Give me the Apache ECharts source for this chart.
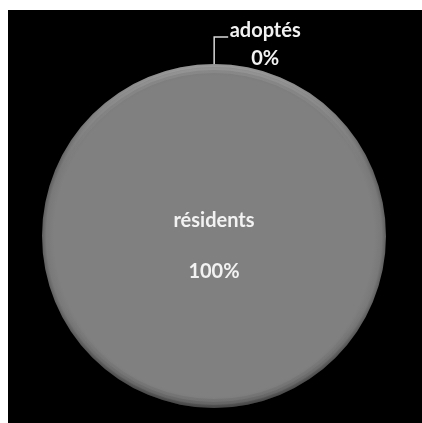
<!DOCTYPE html>
<html>
<head>
<meta charset="utf-8">
<script src="https://cdn.jsdelivr.net/npm/echarts@6/dist/echarts.min.js"></script>
<style>
  html, body { margin: 0; padding: 0; background: #ffffff; }
  #chart { position: absolute; left: 8px; top: 10px; width: 414px; height: 413px; background: #000000; }
</style>
</head>
<body>
<div id="chart"></div>
<script>
// Share of residents vs adopted
const categories = ['résidents', 'adoptés'];
const values = [100, 0];

const chart = echarts.init(document.getElementById('chart'), null, { renderer: 'canvas' });

const CENTER = [206, 226];
const R = 172;
const labelFont = { fontFamily: 'Lato', fontWeight: 'bold', fontSize: 20, color: '#f2f2f2' };

// Flat grey body, darkening slightly towards the rim
const fill = {
  type: 'radial', x: 0.5, y: 0.5, r: 0.5,
  colorStops: [
    { offset: 0, color: '#808080' },
    { offset: 0.93, color: '#808080' },
    { offset: 0.975, color: '#797979' },
    { offset: 1, color: '#5e5e5e' }
  ]
};

const data = categories.map((name, i) => {
  const item = { name: name, value: values[i] };
  if (i === 0) {
    item.label = {
      position: 'center',
      formatter: '{b}\n\n{d}%',
      lineHeight: 25.5,
      offset: [0, 10.5],
      align: 'center',
      ...labelFont
    };
    item.labelLine = { show: false };
  } else {
    item.label = {
      position: 'outside',
      formatter: '{t|{b}}\n{t|{d}%}',
      rich: { t: { width: 72, align: 'center', lineHeight: 28, ...labelFont } },
      padding: [16, 0, 0, 0],
      distanceToLabelLine: 1
    };
    item.labelLine = { show: true, length: 27, length2: 14, lineStyle: { color: '#d9d9d9', width: 1.5 } };
  }
  return item;
});

// Soft bevel rim: light at the top, dark at the bottom
const rims = [
  { r: [169, 172], top: 0.32, bottom: 0.28 },
  { r: [166, 169], top: 0.2, bottom: 0.16 },
  { r: [163, 166], top: 0.09, bottom: 0.07 }
];
const rimSeries = rims.map(rim => ({
  type: 'pie',
  center: CENTER,
  radius: rim.r,
  startAngle: 89.95,
  silent: true,
  label: { show: false },
  labelLine: { show: false },
  itemStyle: {
    borderWidth: 0,
    color: {
      type: 'linear', x: 0, y: 0, x2: 0, y2: 1,
      colorStops: [
        { offset: 0, color: 'rgba(255,255,255,' + rim.top + ')' },
        { offset: 0.3, color: 'rgba(255,255,255,0)' },
        { offset: 0.7, color: 'rgba(0,0,0,0)' },
        { offset: 1, color: 'rgba(0,0,0,' + rim.bottom + ')' }
      ]
    }
  },
  data: categories.map((name, i) => ({ name: name, value: values[i] }))
}));

chart.setOption({
  backgroundColor: '#000000',
  animation: false,
  series: [{
    type: 'pie',
    center: CENTER,
    radius: [0, R],
    startAngle: 89.95,
    clockwise: true,
    avoidLabelOverlap: false,
    minShowLabelAngle: -1,
    itemStyle: { color: fill, borderWidth: 0 },
    emphasis: { disabled: true },
    data: data
  }].concat(rimSeries)
});
</script>
</body>
</html>
